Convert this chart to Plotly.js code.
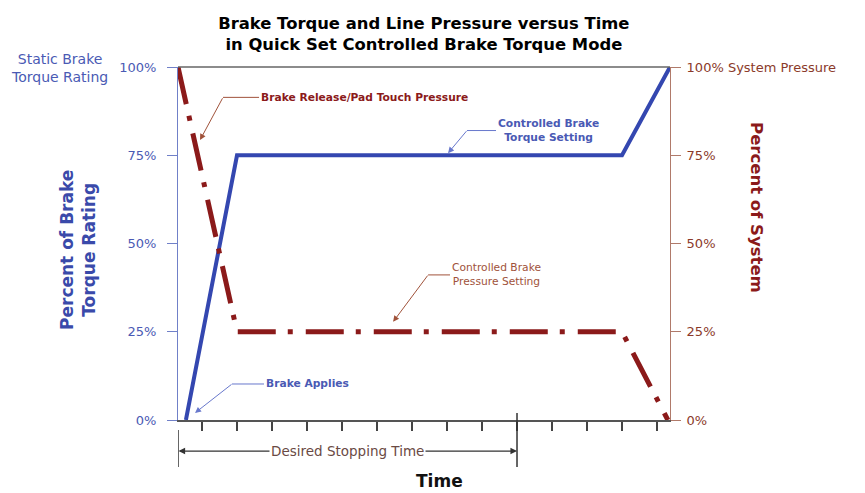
<!DOCTYPE html>
<html>
<head>
<meta charset="utf-8">
<script src="https://cdn.plot.ly/plotly-3.0.1.min.js"></script>
<style>html,body{margin:0;padding:0;background:#fff}#chart{width:865px;height:493px}</style>
</head>
<body>
<div id="chart"></div>
<script>
// ---- data ----
const timeTicks = [0, 1, 2, 3, 4, 5, 6, 7, 8, 9, 10, 11, 12, 13];
const timeRange = [-0.686, 13.371];
const torqueTime = [-0.46, 1, 12, 13.371];
const torquePct = [0, 75, 75, 100];
const pressureTime = [-0.686, 1, 12, 13.31];
const pressurePct = [100, 25, 25, 0];
const pctTicks = [0, 25, 50, 75, 100];
const leftTickText = ['0%', '25%', '50%', '75%', '100%'];
const rightTickText = ['0%', '25%', '50%', '75%', '100% System Pressure'];
const stoppingWindow = [-0.686, 9];

const FONT = 'DejaVu Sans, Verdana, sans-serif';
const BLUE = '#3447b0';
const BLUE_TXT = '#4a5ab4';
const BLUE_LEAD = '#6878cc';
const RED = '#8b1a1a';
const RED_TXT = '#8b3a2a';
const RED_LEAD = '#a0523a';

const traces = [
  {
    x: pressureTime, y: pressurePct, yaxis: 'y2', mode: 'lines',
    line: {color: RED, width: 5, dash: '38px,12px,5px,13px'},
    cliponaxis: false, hoverinfo: 'skip', showlegend: false
  },
  {
    x: torqueTime, y: torquePct, yaxis: 'y', mode: 'lines',
    line: {color: BLUE, width: 4},
    cliponaxis: false, hoverinfo: 'skip', showlegend: false
  }
];

function leader(textHtml, color, leadColor, size, tx, ty, ex, tgx, tgy) {
  return [
    {x: ex, y: ty, xref: 'x', yref: 'y', ax: tx, ay: ty, axref: 'x', ayref: 'y',
     text: textHtml, showarrow: true, arrowhead: 0, arrowwidth: 1, arrowcolor: leadColor,
     font: {family: FONT, size: size, color: color}, align: 'center', borderpad: 1},
    {x: tgx, y: tgy, xref: 'x', yref: 'y', ax: ex, ay: ty, axref: 'x', ayref: 'y',
     text: ' ', showarrow: true, arrowhead: 2, arrowsize: 1.2, arrowwidth: 1, arrowcolor: leadColor,
     font: {size: 1}, borderpad: 0}
  ];
}

const annotations = [].concat(
  leader('<b>Brake Release/Pad Touch Pressure</b>', RED, RED_LEAD, 10.7, 4.63, 91.4, 0.6, -0.057, 79.3),
  leader('<b>Controlled Brake<br>Torque Setting</b>', BLUE_TXT, BLUE_LEAD, 10.7, 9.886, 82.0, 7.57, 7.03, 75.6),
  leader('Controlled Brake<br>Pressure Setting', RED_LEAD, RED_LEAD, 10.7, 8.4, 41.1, 6.46, 5.46, 27.8),
  leader('<b>Brake Applies</b>', BLUE_TXT, BLUE_LEAD, 10.7, 3.0, 10.2, 0.857, -0.2, 2.0),
  [
    {x: stoppingWindow[1], y: -0.088, xref: 'x', yref: 'paper',
     ax: stoppingWindow[0], ay: 0, axref: 'x', ayref: 'pixel',
     text: ' ', showarrow: true, arrowhead: 2, startarrowhead: 2, arrowside: 'end+start',
     arrowsize: 1.1, startarrowsize: 1.1, arrowwidth: 1.2, arrowcolor: '#333',
     font: {size: 1}, borderpad: 0},
    {x: (stoppingWindow[0] + stoppingWindow[1]) / 2, y: -0.088, xref: 'x', yref: 'paper',
     xanchor: 'center', yanchor: 'middle',
     text: 'Desired Stopping Time', showarrow: false, bgcolor: '#ffffff', borderpad: 1,
     font: {family: FONT, size: 13.5, color: '#6a4a44'}},
    {x: 1.177, y: 0.603, xref: 'paper', yref: 'paper', xanchor: 'center', yanchor: 'middle',
     text: '<b>Percent of System</b>',
     textangle: 90, showarrow: false, font: {family: FONT, size: 16.5, color: RED}},
    {x: -0.203, y: 0.482, xref: 'paper', yref: 'paper', xanchor: 'center', yanchor: 'middle',
     text: '<b>Percent of Brake<br>Torque Rating</b>',
     textangle: -90, showarrow: false, font: {family: FONT, size: 17, color: '#3a4aaa'}},
    {x: -0.24, y: 0.996, xref: 'paper', yref: 'paper', xanchor: 'center', yanchor: 'middle',
     text: 'Static Brake<br>Torque Rating',
     showarrow: false, align: 'center', font: {family: FONT, size: 14, color: BLUE_TXT}},
    {x: 0.5325, y: -0.173, xref: 'paper', yref: 'paper', xanchor: 'center', yanchor: 'middle',
     text: '<b>Time</b>',
     showarrow: false, font: {family: FONT, size: 17, color: '#111'}}
  ]
);

const shapes = [
  {type: 'line', xref: 'paper', yref: 'paper', x0: 0, x1: 1, y0: 1, y1: 1,
   line: {color: '#666', width: 1.5}},
  {type: 'line', xref: 'x', yref: 'paper', x0: stoppingWindow[0], x1: stoppingWindow[0], y0: -0.028, y1: -0.133,
   line: {color: '#333', width: 1.5}},
  {type: 'line', xref: 'x', yref: 'paper', x0: stoppingWindow[1], x1: stoppingWindow[1], y0: 0.02, y1: -0.133,
   line: {color: '#333', width: 1.5}}
];

const layout = {
  width: 865, height: 493,
  margin: {l: 178, r: 195, t: 67, b: 73},
  paper_bgcolor: '#fff', plot_bgcolor: '#fff',
  font: {family: FONT},
  title: {
    text: '<b>Brake Torque and Line Pressure versus Time<br>in Quick Set Controlled Brake Torque Mode</b>',
    x: 0.49, xanchor: 'center', y: 0.941, yanchor: 'middle',
    font: {family: FONT, size: 16.4, color: '#000'}
  },
  xaxis: {
    range: timeRange, tickvals: timeTicks, showticklabels: false,
    ticks: 'outside', ticklen: 9, tickwidth: 1.5, tickcolor: '#444',
    showline: true, linecolor: '#555', linewidth: 2,
    showgrid: false, zeroline: false, fixedrange: true
  },
  yaxis: {
    range: [0, 100], tickvals: pctTicks, ticktext: leftTickText,
    ticks: 'outside', ticklen: 10, tickwidth: 1, tickcolor: '#7080c8',
    showline: true, linecolor: '#7080c8', linewidth: 1,
    tickfont: {family: FONT, size: 13, color: BLUE_TXT}, ticklabelstandoff: 8,
    showgrid: false, zeroline: false, fixedrange: true
  },
  yaxis2: {
    range: [0, 100], overlaying: 'y', side: 'right',
    tickvals: pctTicks, ticktext: rightTickText,
    ticks: 'outside', ticklen: 10, tickwidth: 1, tickcolor: '#b07a6a',
    showline: true, linecolor: '#b07a6a', linewidth: 1,
    tickfont: {family: FONT, size: 13, color: RED_TXT}, ticklabelstandoff: 3,
    showgrid: false, zeroline: false, fixedrange: true
  },
  showlegend: false,
  annotations: annotations,
  shapes: shapes
};

Plotly.newPlot('chart', traces, layout, {displayModeBar: false, staticPlot: true});
</script>
</body>
</html>
